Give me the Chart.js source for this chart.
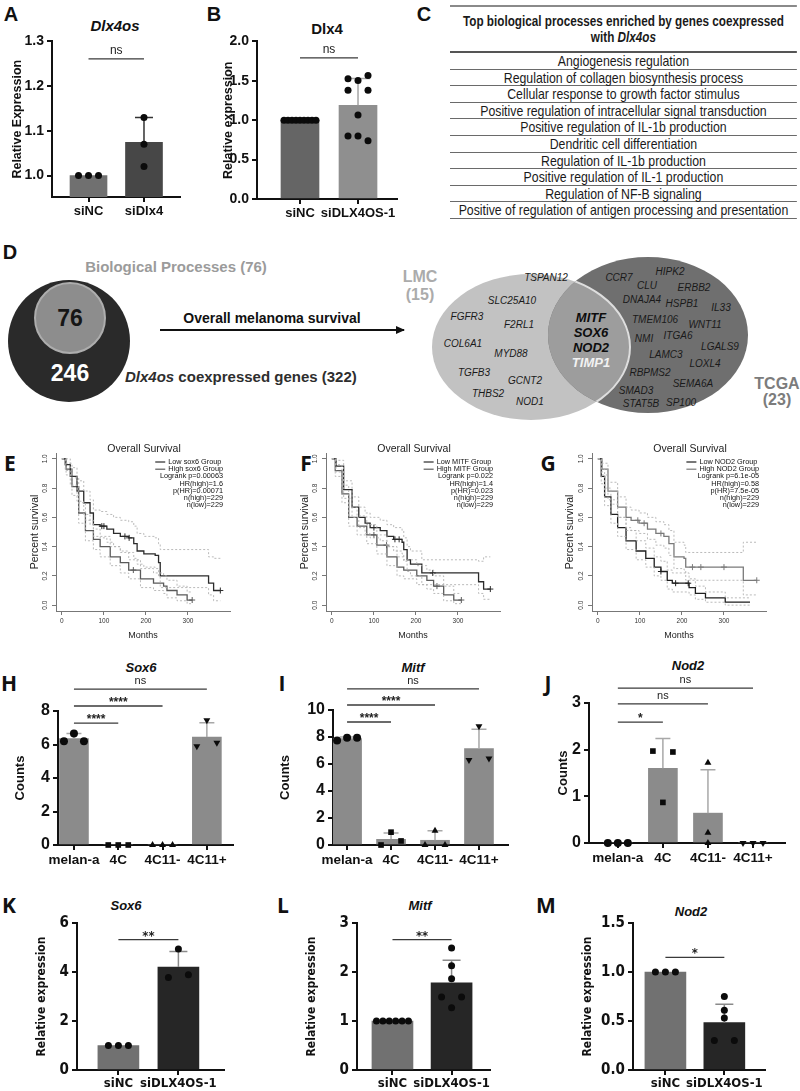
<!DOCTYPE html>
<html>
<head>
<meta charset="utf-8">
<title>Dlx4os figure</title>
<script src="https://cdn.jsdelivr.net/npm/chart.js@4.4.1/dist/chart.umd.min.js"></script>
<style>
  html, body { margin: 0; padding: 0; background: #fff; }
  #fig { position: relative; width: 800px; height: 1091px; overflow: hidden; background: #fff;
         font-family: "Liberation Sans", Arial, sans-serif; color: #111; }
  /* table is set in Arial and squeezed to look like Arial Narrow */
  #tbl { position: absolute; left: 450px; top: 5px; width: 423px; transform: scaleX(0.82); transform-origin: 0 0;
         text-align: center; color: #1a1a1a; font-family: "Liberation Sans", Arial, sans-serif; font-size: 15px;
         border-top: 2px solid #8a8a8a; white-space: nowrap; }
  #tbl .th { height: 44px; font-weight: bold; font-size: 14.3px; line-height: 16px; display: flex; align-items: center;
             justify-content: center; border-bottom: 2px solid #555; }
  #tbl .tr { height: 15.6px; line-height: 15.6px; border-bottom: 1.5px solid #6a6a6a; }
</style>
</head>
<body>
<div id="fig"></div>
<script>
// ---------- data ----------

// A  Dlx4os after siDlx4
const aLabels = ['siNC', 'siDlx4'];
const aMeans = [1.0, 1.074];
const aTops = [null, 1.13];
const aPoints = [[1.0, 1.0, 1.0], [1.13, 1.07, 1.02]];
const aTicks = [1.0, 1.1, 1.2, 1.3];
const aSig = [{ a: 0, b: 1, y: 1.261, text: 'ns' }];

// B  Dlx4 after siDLX4OS-1
const bLabels = ['siNC', 'siDLX4OS-1'];
const bMeans = [1.0, 1.19];
const bTops = [null, 1.53];
const bPoints = [[1, 1, 1, 1, 1, 1, 1, 1, 1], [1.525, 1.504, 1.567, 1.379, 1.379, 1.067, 0.80, 0.80, 0.74]];
const bTicks = [0, 0.5, 1.0, 1.5, 2.0];
const bSig = [{ a: 0, b: 1, y: 1.79, text: 'ns' }];

// C  enriched processes
const cHeader = 'Top biological processes enriched by genes coexpressed<br>with <i>Dlx4os</i>';
const cRows = ['Angiogenesis regulation', 'Regulation of collagen biosynthesis process',
  'Cellular response to growth factor stimulus', 'Positive regulation of intracellular signal transduction',
  'Positive regulation of IL-1b production', 'Dendritic cell differentiation', 'Regulation of IL-1b production',
  'Positive regulation of IL-1 production', 'Regulation of NF-B signaling',
  'Positive of regulation of antigen processing and presentation'];

// D  venn gene lists
const lmcGenes = [['TSPAN12', 546, 277], ['SLC25A10', 512, 300], ['FGFR3', 467, 316], ['F2RL1', 519, 324],
  ['COL6A1', 463, 343], ['MYD88', 511, 353], ['TGFB3', 474, 372], ['GCNT2', 525, 380], ['THBS2', 488, 393], ['NOD1', 530, 401]];
const tcgaGenes = [['CCR7', 619, 277], ['HIPK2', 670, 271], ['CLU', 647, 285], ['ERBB2', 694, 287], ['DNAJA4', 642, 299],
  ['HSPB1', 682, 303], ['IL33', 721, 307], ['TMEM106', 655, 319], ['WNT11', 705, 324], ['NMI', 644, 338],
  ['ITGA6', 678, 335], ['LGALS9', 720, 346], ['LAMC3', 666, 354], ['LOXL4', 705, 363], ['RBPMS2', 650, 372],
  ['SMAD3', 636, 390], ['SEMA6A', 693, 383], ['STAT5B', 641, 403], ['SP100', 681, 402]];
const sharedGenes = ['MITF', 'SOX6', 'NOD2', 'TIMP1'];

// E-G  Kaplan-Meier (months, survival, CI upper, CI lower, censored months)
const eLowX = [0, 8, 20, 36, 52, 67, 75, 91, 107, 123, 139, 159, 171, 179, 195, 222, 230, 234, 345, 349, 361, 377];
const eLowY = [1.0, 0.96, 0.88, 0.78, 0.70, 0.63, 0.55, 0.54, 0.52, 0.49, 0.47, 0.46, 0.42, 0.37, 0.35, 0.34, 0.29, 0.20, 0.20, 0.15, 0.10, 0.10];
const eLowUp = [1.0, 1.0, 0.94, 0.85, 0.78, 0.72, 0.65, 0.64, 0.62, 0.60, 0.58, 0.57, 0.54, 0.49, 0.47, 0.46, 0.42, 0.38, 0.38, 0.33, 0.32, 0.32];
const eLowLo = [1.0, 0.92, 0.82, 0.71, 0.62, 0.55, 0.47, 0.46, 0.43, 0.40, 0.37, 0.36, 0.32, 0.28, 0.26, 0.25, 0.20, 0.12, 0.12, 0.07, 0.03, 0.03];
const eLowCens = [95, 100, 150, 160, 377];
const eHighX = [0, 10, 24, 40, 56, 75, 91, 115, 139, 159, 187, 218, 242, 250, 274, 298, 310];
const eHighY = [1.0, 0.93, 0.81, 0.63, 0.51, 0.45, 0.40, 0.33, 0.29, 0.24, 0.18, 0.15, 0.13, 0.10, 0.07, 0.035, 0.035];
const eHighUp = [1.0, 0.97, 0.87, 0.70, 0.58, 0.52, 0.47, 0.40, 0.36, 0.31, 0.25, 0.22, 0.20, 0.17, 0.13, 0.09, 0.09];
const eHighLo = [1.0, 0.89, 0.75, 0.56, 0.44, 0.38, 0.33, 0.27, 0.22, 0.18, 0.12, 0.10, 0.08, 0.05, 0.03, 0.01, 0.01];
const eHighCens = [170, 310];
const eStats = ['Logrank p=0.00063', 'HR(high)=1.6', 'p(HR)=0.00071', 'n(high)=229', 'n(low)=229'];

const fLowX = [0, 10, 28, 48, 64, 79, 91, 115, 131, 147, 167, 171, 179, 187, 214, 345, 349, 361, 377];
const fLowY = [1.0, 0.95, 0.79, 0.67, 0.60, 0.56, 0.53, 0.51, 0.47, 0.45, 0.43, 0.38, 0.31, 0.28, 0.22, 0.22, 0.16, 0.11, 0.11];
const fLowUp = [1.0, 0.99, 0.85, 0.74, 0.67, 0.63, 0.60, 0.58, 0.55, 0.53, 0.51, 0.46, 0.40, 0.37, 0.31, 0.31, 0.30, 0.33, 0.33];
const fLowLo = [1.0, 0.91, 0.73, 0.60, 0.53, 0.49, 0.46, 0.44, 0.40, 0.37, 0.35, 0.30, 0.23, 0.20, 0.14, 0.14, 0.08, 0.04, 0.04];
const fLowCens = [100, 150, 160, 240, 377];
const fHighX = [0, 8, 24, 40, 60, 83, 107, 131, 155, 171, 202, 226, 242, 266, 290, 308];
const fHighY = [1.0, 0.92, 0.76, 0.60, 0.54, 0.48, 0.41, 0.33, 0.26, 0.24, 0.20, 0.17, 0.13, 0.07, 0.035, 0.035];
const fHighUp = [1.0, 0.96, 0.82, 0.67, 0.61, 0.55, 0.48, 0.40, 0.33, 0.31, 0.27, 0.24, 0.20, 0.13, 0.08, 0.08];
const fHighLo = [1.0, 0.88, 0.70, 0.54, 0.48, 0.42, 0.35, 0.27, 0.20, 0.18, 0.14, 0.11, 0.08, 0.03, 0.01, 0.01];
const fHighCens = [100, 130, 250, 308];
const fStats = ['Logrank p=0.022', 'HR(high)=1.4', 'p(HR)=0.023', 'n(high)=229', 'n(low)=229'];

const gLowX = [0, 8, 16, 31, 47, 67, 91, 114, 134, 150, 165, 177, 217, 232, 256, 303, 362];
const gLowY = [1.0, 0.88, 0.74, 0.62, 0.53, 0.44, 0.37, 0.32, 0.26, 0.23, 0.17, 0.15, 0.12, 0.08, 0.05, 0.02, 0.02];
const gLowUp = [1.0, 0.93, 0.80, 0.69, 0.60, 0.51, 0.44, 0.39, 0.33, 0.30, 0.24, 0.22, 0.18, 0.13, 0.09, 0.05, 0.05];
const gLowLo = [1.0, 0.83, 0.68, 0.56, 0.47, 0.38, 0.31, 0.26, 0.20, 0.17, 0.11, 0.09, 0.07, 0.04, 0.02, 0.0, 0.0];
const gLowCens = [150, 185, 215];
const gHighX = [0, 10, 24, 47, 67, 79, 98, 118, 138, 157, 169, 181, 205, 209, 343, 346, 378];
const gHighY = [1.0, 0.93, 0.78, 0.67, 0.60, 0.58, 0.56, 0.52, 0.49, 0.47, 0.42, 0.33, 0.32, 0.26, 0.26, 0.17, 0.17];
const gHighUp = [1.0, 0.97, 0.84, 0.74, 0.67, 0.65, 0.63, 0.60, 0.57, 0.55, 0.51, 0.43, 0.41, 0.36, 0.36, 0.43, 0.43];
const gHighLo = [1.0, 0.89, 0.72, 0.60, 0.53, 0.51, 0.49, 0.45, 0.41, 0.39, 0.34, 0.25, 0.24, 0.17, 0.17, 0.07, 0.07];
const gHighCens = [95, 110, 150, 225, 245, 300, 378];
const gStats = ['Logrank p=6.1e-05', 'HR(high)=0.58', 'p(HR)=7.5e-05', 'n(high)=229', 'n(low)=229'];

const survXTicks = [0, 100, 200, 300];
const survYTicks = [0, 0.2, 0.4, 0.6, 0.8, 1.0];

// H-J  counts in cell lines
const cellLabels = ['melan-a', '4C', '4C11-', '4C11+'];
const hMeans = [6.35, 0, 0, 6.45];
const hTops = [6.65, 0, 0, 7.3];
const hPoints = [[6.2, 6.65, 6.2], [0, 0, 0], [0, 0, 0], [5.9, 7.45, 6.1]];
const hTicks = [0, 2, 4, 6, 8];
const hSig = [{ a: 0, b: 3, y: 9.31, text: 'ns' }, { a: 0, b: 2, y: 8.3, text: '****' }, { a: 0, b: 1, y: 7.28, text: '****' }];

const iMeans = [7.88, 0.42, 0.35, 7.15];
const iTops = [8.0, 0.88, 1.05, 8.57];
const iPoints = [[7.75, 7.95, 7.95], [0, 0.3, 0.95], [0, 1.05, 0], [6.3, 8.8, 6.4]];
const iTicks = [0, 2, 4, 6, 8, 10];
const iSig = [{ a: 0, b: 3, y: 11.56, text: 'ns' }, { a: 0, b: 2, y: 10.37, text: '****' }, { a: 0, b: 1, y: 9.11, text: '****' }];

const jMeans = [0, 1.6, 0.64, 0];
const jTops = [0, 2.24, 1.57, 0];
const jPoints = [[0, 0, 0], [1.97, 0.87, 1.95], [1.72, 0.22, 0], [0, 0, 0]];
const jTicks = [0, 1, 2, 3];
const jSig = [{ a: 0, b: 3, y: 3.32, text: 'ns' }, { a: 0, b: 2, y: 2.98, text: 'ns' }, { a: 0, b: 1, y: 2.59, text: '*' }];
const cellMarkers = ['circle', 'rect', 'triangle', 'down'];

// K-M  qPCR after siDLX4OS-1
const kdLabels = ['siNC', 'siDLX4OS-1'];
const kMeans = [1.0, 4.2];
const kTops = [null, 4.84];
const kPoints = [[1, 1, 1], [4.94, 3.78, 3.89]];
const kTicks = [0, 2, 4, 6];
const kSig = [{ a: 0, b: 1, y: 5.32, text: '**' }];

const lMeans = [1.0, 1.78];
const lTops = [null, 2.24];
const lPoints = [[1, 1, 1, 1, 1, 1], [2.49, 2.13, 1.86, 1.49, 1.49, 1.27]];
const lTicks = [0, 1, 2, 3];
const lSig = [{ a: 0, b: 1, y: 2.66, text: '**' }];

const mMeans = [1.0, 0.485];
const mTops = [null, 0.67];
const mPoints = [[1, 1, 1], [0.75, 0.61, 0.53, 0.30, 0.30]];
const mTicks = [0, 0.5, 1.0, 1.5];
const mSig = [{ a: 0, b: 1, y: 1.15, text: '*' }];

// ---------- helpers ----------
const SANS = '"Liberation Sans", Arial, sans-serif';
const NARROW = '"Liberation Sans Narrow", "DejaVu Sans Condensed", sans-serif';
Chart.defaults.font.family = SANS;
Chart.defaults.color = '#111';
const fig = document.getElementById('fig');

function place(b) {
  const c = document.createElement('canvas');
  c.width = b.w; c.height = b.h;
  c.style.cssText = 'position:absolute;left:' + b.x + 'px;top:' + b.y + 'px;';
  fig.appendChild(c);
  return c;
}

function txt(html, x, y, css) {
  const d = document.createElement('div');
  d.innerHTML = html;
  d.style.cssText = 'position:absolute;left:' + x + 'px;top:' + y + 'px;transform:translate(-50%,-50%);' +
    'white-space:nowrap;line-height:1;' + css;
  fig.appendChild(d);
}

// spread dots that sit at about the same height, like a prism scatter
function jitter(vals, idx, yPx, xPx, halfBar) {
  const thr = 6.5 / yPx;
  const used = vals.map(() => false);
  const out = [];
  vals.forEach((v, i) => {
    if (used[i]) return;
    const grp = [];
    vals.forEach((w, j) => {
      if (!used[j] && Math.abs(w - v) < thr) { grp.push(j); used[j] = true; }
    });
    const k = grp.length;
    const half = k === 1 ? 0 : Math.min(halfBar - 3, k <= 3 ? 10 : 10 + 2 * (k - 3));
    grp.forEach((j, n) => {
      const off = k === 1 ? 0 : -half + 2 * half * n / (k - 1);
      out.push({ x: idx + off / xPx, y: vals[j] });
    });
  });
  return out;
}

function errPlugin(means, tops, color, cap) {
  return {
    id: 'errBars',
    afterDatasetDraw(chart, args) {
      if (args.meta.type !== 'bar') return;
      const { ctx, scales: { x, y } } = chart;
      ctx.save();
      ctx.strokeStyle = color; ctx.lineWidth = 1.5;
      means.forEach((m, i) => {
        const top = tops[i];
        if (top == null || top <= m) return;
        const px = x.getPixelForValue(i), y0 = y.getPixelForValue(m), y1 = y.getPixelForValue(top);
        ctx.beginPath();
        ctx.moveTo(px, y0); ctx.lineTo(px, y1);
        ctx.moveTo(px - cap, y1); ctx.lineTo(px + cap, y1);
        ctx.stroke();
      });
      ctx.restore();
    }
  };
}

function sigPlugin(sigs, size, family) {
  return {
    id: 'sigBars',
    afterDraw(chart) {
      const { ctx, scales: { x, y } } = chart;
      ctx.save();
      ctx.strokeStyle = '#3a3a3a'; ctx.lineWidth = 1.3; ctx.fillStyle = '#222';
      ctx.textAlign = 'center'; ctx.textBaseline = 'middle';
      sigs.forEach(s => {
        const x1 = x.getPixelForValue(s.a), x2 = x.getPixelForValue(s.b), py = y.getPixelForValue(s.y);
        ctx.beginPath(); ctx.moveTo(x1, py); ctx.lineTo(x2, py); ctx.stroke();
        if (s.text === 'ns') {
          ctx.font = size + 'px ' + family;
          ctx.fillText(s.text, (x1 + x2) / 2, py - 8);
        } else {
          ctx.font = 'bold ' + (size + 1) + 'px ' + family;
          ctx.fillText(s.text, (x1 + x2) / 2, py - 3.5);
        }
      });
      ctx.restore();
    }
  };
}

function barPanel(p) {
  const cv = place(p.box);
  const yPx = (p.area.b - p.area.t) / (p.yMax - p.yMin);
  const xPx = (p.area.r - p.area.l) / (p.xMax - p.xMin);
  const markers = p.markers || p.labels.map(() => 'circle');
  const dots = p.points.map((vals, i) => ({
    type: 'scatter', order: 0, clip: false,
    data: jitter(vals, i, yPx, xPx, p.barW / 2),
    pointStyle: markers[i] === 'down' ? 'triangle' : markers[i],
    pointRotation: markers[i] === 'down' ? 180 : 0,
    pointRadius: p.dotR, pointBackgroundColor: '#0b0b0b', pointBorderColor: '#0b0b0b', pointBorderWidth: 0
  }));
  const titleFont = p.yTitleFont;
  const lh = titleFont.size * 1.2;
  new Chart(cv, {
    type: 'bar',
    data: {
      datasets: [{
        type: 'bar', order: 1, data: p.means.map((m, i) => ({ x: i, y: m })),
        backgroundColor: p.colors, barThickness: p.barW, borderWidth: 0
      }].concat(dots)
    },
    options: {
      responsive: false, animation: false, devicePixelRatio: 1,
      layout: { autoPadding: false, padding: { top: p.area.t - p.box.y, right: p.box.x + p.box.w - p.area.r, left: 0, bottom: 0 } },
      plugins: { legend: { display: false }, tooltip: { enabled: false } },
      scales: {
        x: {
          type: 'linear', offset: false, min: p.xMin, max: p.xMax,
          afterFit: s => { s.height = p.box.y + p.box.h - p.area.b; },
          afterBuildTicks: s => { s.ticks = p.labels.map((l, i) => ({ value: i })); },
          ticks: { callback: v => p.labels[v], font: p.xFont, color: '#111', padding: p.xPad || 2, autoSkip: false, maxRotation: 0 },
          grid: { drawOnChartArea: false, color: '#111', lineWidth: 2, tickLength: 5, offset: false },
          border: { color: '#111', width: 2 }
        },
        y: {
          type: 'linear', min: p.yMin, max: p.yMax,
          afterFit: s => { s.width = p.area.l - p.box.x; },
          afterBuildTicks: s => { s.ticks = p.yTicks.map(v => ({ value: v })); },
          ticks: { font: p.yFont, color: '#111', padding: 3, callback: v => v.toFixed(p.dec) },
          grid: { drawOnChartArea: false, color: '#111', lineWidth: 2, tickLength: 5 },
          border: { color: '#111', width: 2 },
          title: { display: true, text: p.yTitle, font: titleFont, color: '#111',
                   padding: { top: p.yTitleX - p.box.x - lh / 2, bottom: 0 } }
        }
      }
    },
    plugins: [errPlugin(p.means, p.tops, p.errColor, p.cap), sigPlugin(p.sigs, p.sigSize, p.sigFamily || SANS)]
  });
}

function stepAt(xs, ys, m) {
  let v = ys[0];
  xs.forEach((t, i) => { if (t <= m) v = ys[i]; });
  return v;
}

function survLegend(p) {
  return {
    id: 'survLegend',
    afterDraw(chart) {
      const { ctx, chartArea: a } = chart;
      const right = p.legendRight - p.box.x, top = a.top + 9, lh = 7.2;
      ctx.save();
      ctx.font = '7.3px ' + SANS; ctx.fillStyle = '#111'; ctx.textBaseline = 'middle';
      const w = Math.max(...p.groups.map(g => ctx.measureText(g.name).width));
      p.groups.forEach((g, i) => {
        const yy = top + i * lh;
        ctx.strokeStyle = g.color; ctx.lineWidth = 1.2;
        ctx.beginPath(); ctx.moveTo(right - w - 13, yy); ctx.lineTo(right - w - 3, yy); ctx.stroke();
        ctx.textAlign = 'left'; ctx.fillText(g.name, right - w, yy);
      });
      ctx.textAlign = 'right';
      p.stats.forEach((s, i) => ctx.fillText(s, right, top + (i + 2) * lh));
      ctx.restore();
    }
  };
}

function survPanel(p) {
  const cv = place(p.box);
  const ds = [];
  p.groups.forEach(g => {
    [g.up, g.lo].forEach(ci => ds.push({
      data: g.x.map((m, i) => ({ x: m, y: ci[i] })), borderColor: '#b2b2b2', borderWidth: 0.9,
      borderDash: [2, 2], stepped: true, pointRadius: 0, fill: false
    }));
  });
  p.groups.forEach(g => {
    ds.push({ data: g.x.map((m, i) => ({ x: m, y: g.y[i] })), borderColor: g.color, borderWidth: 1.3,
              stepped: true, pointRadius: 0, fill: false });
    ds.push({ type: 'scatter', clip: false, data: g.cens.map(m => ({ x: m, y: stepAt(g.x, g.y, m) })),
              pointStyle: 'cross', pointRadius: 3, pointBorderColor: g.color, pointBorderWidth: 1 });
  });
  const tf = { size: 10.5, family: SANS };
  new Chart(cv, {
    type: 'line',
    data: { datasets: ds },
    options: {
      responsive: false, animation: false, devicePixelRatio: 1,
      layout: { autoPadding: false, padding: { top: p.area.t - p.box.y, right: p.box.x + p.box.w - p.area.r, left: 0, bottom: 0 } },
      plugins: { legend: { display: false }, tooltip: { enabled: false } },
      scales: {
        x: {
          type: 'linear', min: -14, max: 400,
          afterFit: s => { s.height = p.box.y + p.box.h - p.area.b; },
          afterBuildTicks: s => { s.ticks = survXTicks.map(v => ({ value: v })); },
          ticks: { font: { size: 6.5 }, color: '#333', padding: 2, maxRotation: 0 },
          grid: { drawOnChartArea: false, color: '#777', lineWidth: 1, tickLength: 4 },
          border: { color: '#777', width: 1 },
          title: { display: true, text: 'Months', font: { size: 9 }, color: '#222', padding: { top: 0, bottom: 4 } }
        },
        y: {
          type: 'linear', min: -0.04, max: 1.04,
          afterFit: s => { s.width = p.area.l - p.box.x; },
          afterBuildTicks: s => { s.ticks = survYTicks.map(v => ({ value: v })); },
          ticks: { font: { size: 6.5 }, color: '#333', padding: 2, minRotation: 90, maxRotation: 90,
                   crossAlign: 'center', callback: v => v.toFixed(1) },
          grid: { drawOnChartArea: false, color: '#777', lineWidth: 1, tickLength: 4 },
          border: { color: '#777', width: 1 },
          title: { display: true, text: 'Percent survival', font: tf, color: '#222',
                   padding: { top: p.yTitleX - p.box.x - 6.3, bottom: 0 } }
        }
      }
    },
    plugins: [survLegend(p)]
  });
  txt('Overall Survival', p.titleX, 448, 'font:10.5px ' + SANS + ';color:#222;');
}

// ---------- panel letters and titles ----------
const letterA = 'font:bold 20px ' + SANS + ';color:#111;';
const letterE = 'font:bold 21px "Open Sans", ' + SANS + ';color:#111;';
txt('A', 11, 14, letterA); txt('B', 214, 14, letterA); txt('C', 424, 14, letterA); txt('D', 10, 252, letterA);
txt('E', 10, 463, letterE); txt('F', 306, 463, letterE); txt('G', 548, 463, letterE);
txt('H', 9, 683, letterE); txt('I', 282, 683, letterE); txt('J', 548, 683, letterE);
txt('K', 9, 905, letterE); txt('L', 283, 905, letterE); txt('M', 546, 905, letterE);

const gTitle = 'font:italic bold 15px ' + SANS + ';color:#111;';
txt('Dlx4os', 115, 25, gTitle);
txt('Dlx4', 327, 28, 'font:bold 15px ' + SANS + ';color:#111;');
const cTitle = 'font:italic bold 13px ' + SANS + ';color:#111;';
txt('Sox6', 141, 667, cTitle); txt('Mitf', 413, 667, cTitle); txt('Nod2', 688, 665, cTitle);
txt('Sox6', 126, 905, cTitle); txt('Mitf', 420, 905, cTitle); txt('Nod2', 691, 911, cTitle);

// ---------- C table ----------
const tbl = document.createElement('div');
tbl.id = 'tbl';
tbl.innerHTML = '<div class="th"><div>' + cHeader + '</div></div>' + cRows.map(r => '<div class="tr">' + r + '</div>').join('');
fig.appendChild(tbl);

// ---------- D diagrams ----------
(function () {
  const L = { cx: 531, cy: 347, rx: 99, ry: 73 }, Dk = { cx: 648, cy: 335, rx: 100, ry: 78 };
  const ell = (e, extra) => '<ellipse cx="' + e.cx + '" cy="' + e.cy + '" rx="' + e.rx + '" ry="' + e.ry + '" ' + extra + '/>';
  const t = (s, x, y, attr) => '<text x="' + x + '" y="' + y + '" ' + attr + '>' + s + '</text>';
  const F = 'font-family="Liberation Sans, Arial, sans-serif"';
  let s = '<svg xmlns="http://www.w3.org/2000/svg" width="800" height="200" viewBox="0 225 800 200" style="position:absolute;left:0;top:225px">';
  s += '<defs><clipPath id="clipL">' + ell(L, '') + '</clipPath><clipPath id="clipD">' + ell(Dk, '') + '</clipPath>' +
       '<marker id="arw" markerWidth="9" markerHeight="8" refX="8" refY="4" orient="auto" markerUnits="userSpaceOnUse">' +
       '<path d="M0,0 L9,4 L0,8 z" fill="#111"/></marker></defs>';
  // nested circles
  s += '<circle cx="69" cy="341" r="61" fill="#2a2a2a"/>';
  s += '<circle cx="70" cy="318" r="35" fill="#8d8d8d" stroke="#adadad" stroke-width="2"/>';
  s += t('76', 70, 326, F + ' font-size="23" font-weight="bold" fill="#161616" text-anchor="middle"');
  s += t('246', 70, 381, F + ' font-size="23" font-weight="bold" fill="#fff" text-anchor="middle"');
  s += t('Biological Processes (76)', 176, 272, F + ' font-size="15" font-weight="bold" fill="#9b9b9b" text-anchor="middle"');
  s += t('<tspan font-style="italic">Dlx4os</tspan> coexpressed genes (322)', 125, 382, F + ' font-size="15" font-weight="bold" fill="#2e2e2e"');
  // arrow
  s += '<line x1="160" y1="330" x2="404" y2="330" stroke="#111" stroke-width="2" marker-end="url(#arw)"/>';
  s += t('Overall melanoma survival', 272, 323, F + ' font-size="14" font-weight="bold" fill="#111" text-anchor="middle"');
  // two-set venn
  s += ell(L, 'fill="#c2c2c2"');
  s += ell(Dk, 'fill="#6f6f6f"');
  s += '<g clip-path="url(#clipD)">' + ell(L, 'fill="#9d9d9d" stroke="#dedede" stroke-width="2"') + '</g>';
  s += t('LMC', 420, 282, F + ' font-size="16" font-weight="bold" fill="#ababab" text-anchor="middle"');
  s += t('(15)', 420, 300, F + ' font-size="16" font-weight="bold" fill="#ababab" text-anchor="middle"');
  s += t('TCGA', 777, 389, F + ' font-size="16" font-weight="bold" fill="#7c7c7c" text-anchor="middle"');
  s += t('(23)', 777, 405, F + ' font-size="16" font-weight="bold" fill="#7c7c7c" text-anchor="middle"');
  const gf = F + ' font-size="10" font-style="italic" fill="#1a1a1a" text-anchor="middle"';
  lmcGenes.concat(tcgaGenes).forEach(g => { s += t(g[0], g[1], g[2] + 3.5, gf); });
  sharedGenes.forEach((g, i) => {
    s += t(g, 591, 321.5 + i * 15.3, F + ' font-size="13" font-weight="bold" font-style="italic" text-anchor="middle" fill="' +
      (i === 3 ? '#f2f2f2' : '#0d0d0d') + '"');
  });
  s += '</svg>';
  fig.insertAdjacentHTML('beforeend', s);
})();

// ---------- A, B ----------
const bold = (size, fam) => ({ size: size, weight: 'bold', family: fam || SANS });
barPanel({ box: { x: 0, y: 30, w: 190, h: 200 }, area: { l: 52, t: 37, r: 180, b: 197 },
  labels: aLabels, means: aMeans, tops: aTops, points: aPoints, yTicks: aTicks, sigs: aSig,
  yMin: 0.952, yMax: 1.3, xMin: -0.658, xMax: 1.649, dec: 1, barW: 37, dotR: 3.5, cap: 9,
  colors: ['#707070', '#474747'], errColor: '#333',
  yTitle: 'Relative Expression', yTitleX: 18, yTitleFont: bold(12.5), yFont: bold(14), xFont: bold(13), sigSize: 12 });

barPanel({ box: { x: 195, y: 30, w: 215, h: 200 }, area: { l: 257, t: 39, r: 397, b: 199 },
  labels: bLabels, means: bMeans, tops: bTops, points: bPoints, yTicks: bTicks, sigs: bSig,
  yMin: 0, yMax: 2, xMin: -0.741, xMax: 1.672, dec: 1, barW: 38, dotR: 3.5, cap: 12,
  colors: ['#656565', '#8f8f8f'], errColor: '#a5a5a5',
  yTitle: 'Relative expression', yTitleX: 229, yTitleFont: bold(12.5), yFont: bold(14), xFont: bold(13), sigSize: 12 });

// ---------- E, F, G ----------
survPanel({ box: { x: 20, y: 440, w: 220, h: 205 }, area: { l: 56, t: 453, r: 230, b: 611 }, yTitleX: 35, titleX: 144,
  legendRight: 223, stats: eStats, groups: [
    { name: 'Low sox6 Group', color: '#2b2b2b', x: eLowX, y: eLowY, up: eLowUp, lo: eLowLo, cens: eLowCens },
    { name: 'High sox6 Group', color: '#5a5a5a', x: eHighX, y: eHighY, up: eHighUp, lo: eHighLo, cens: eHighCens }] });
survPanel({ box: { x: 290, y: 440, w: 220, h: 205 }, area: { l: 326, t: 453, r: 500, b: 611 }, yTitleX: 305, titleX: 414,
  legendRight: 493, stats: fStats, groups: [
    { name: 'Low MITF Group', color: '#2b2b2b', x: fLowX, y: fLowY, up: fLowUp, lo: fLowLo, cens: fLowCens },
    { name: 'High MITF Group', color: '#5c5c5c', x: fHighX, y: fHighY, up: fHighUp, lo: fHighLo, cens: fHighCens }] });
survPanel({ box: { x: 556, y: 440, w: 220, h: 205 }, area: { l: 592, t: 453, r: 766, b: 611 }, yTitleX: 570, titleX: 690,
  legendRight: 759, stats: gStats, groups: [
    { name: 'Low NOD2 Group', color: '#1e1e1e', x: gLowX, y: gLowY, up: gLowUp, lo: gLowLo, cens: gLowCens },
    { name: 'High NOD2 Group', color: '#7a7a7a', x: gHighX, y: gHighY, up: gHighUp, lo: gHighLo, cens: gHighCens }] });

// ---------- H, I, J ----------
const cellCommon = { labels: cellLabels, markers: cellMarkers, yMin: 0, dec: 0, barW: 29, dotR: 4, cap: 7.5,
  colors: '#8b8b8b', errColor: '#a8a8a8', yTitle: 'Counts', yTitleFont: bold(13), yFont: bold(16), xFont: bold(13.5), sigSize: 11 };
barPanel(Object.assign({}, cellCommon, { box: { x: 0, y: 650, w: 245, h: 230 }, area: { l: 58, t: 711, r: 233, b: 845 },
  means: hMeans, tops: hTops, points: hPoints, yTicks: hTicks, sigs: hSig, yMax: 8, xMin: -0.36, xMax: 3.59, yTitleX: 20 }));
barPanel(Object.assign({}, cellCommon, { box: { x: 270, y: 650, w: 245, h: 230 }, area: { l: 333, t: 710, r: 508, b: 845 },
  means: iMeans, tops: iTops, points: iPoints, yTicks: iTicks, sigs: iSig, yMax: 10, xMin: -0.32, xMax: 3.66, yTitleX: 285 }));
barPanel(Object.assign({}, cellCommon, { box: { x: 530, y: 650, w: 270, h: 230 }, area: { l: 589, t: 703, r: 785, b: 843 },
  means: jMeans, tops: jTops, points: jPoints, yTicks: jTicks, sigs: jSig, yMax: 3, xMin: -0.64, xMax: 3.71, yTitleX: 563 }));

// ---------- K, L, M ----------
const kdCommon = { labels: kdLabels, yMin: 0, barW: 41, dotR: 3.5, cap: 9, colors: ['#717171', '#262626'], errColor: '#8a8a8a',
  yTitle: 'Relative expression', yTitleFont: bold(12, NARROW), yFont: bold(15, NARROW), xFont: bold(13, NARROW),
  sigSize: 12, sigFamily: NARROW, xPad: 1 };
barPanel(Object.assign({}, kdCommon, { box: { x: 0, y: 880, w: 250, h: 211 }, area: { l: 77, t: 923, r: 224, b: 1070 },
  means: kMeans, tops: kTops, points: kPoints, yTicks: kTicks, sigs: kSig, yMax: 6, dec: 0, xMin: -0.69, xMax: 1.76, yTitleX: 42 }));
barPanel(Object.assign({}, kdCommon, { box: { x: 270, y: 880, w: 250, h: 211 }, area: { l: 357, t: 923, r: 490, b: 1070 },
  means: lMeans, tops: lTops, points: lPoints, yTicks: lTicks, sigs: lSig, yMax: 3, dec: 0, xMin: -0.6, xMax: 1.65, yTitleX: 312 }));
barPanel(Object.assign({}, kdCommon, { box: { x: 530, y: 880, w: 270, h: 211 }, area: { l: 633, t: 923, r: 765, b: 1070 },
  means: mMeans, tops: mTops, points: mPoints, yTicks: mTicks, sigs: mSig, yMax: 1.5, dec: 1, xMin: -0.55, xMax: 1.69, yTitleX: 588 }));
</script>
</body>
</html>
